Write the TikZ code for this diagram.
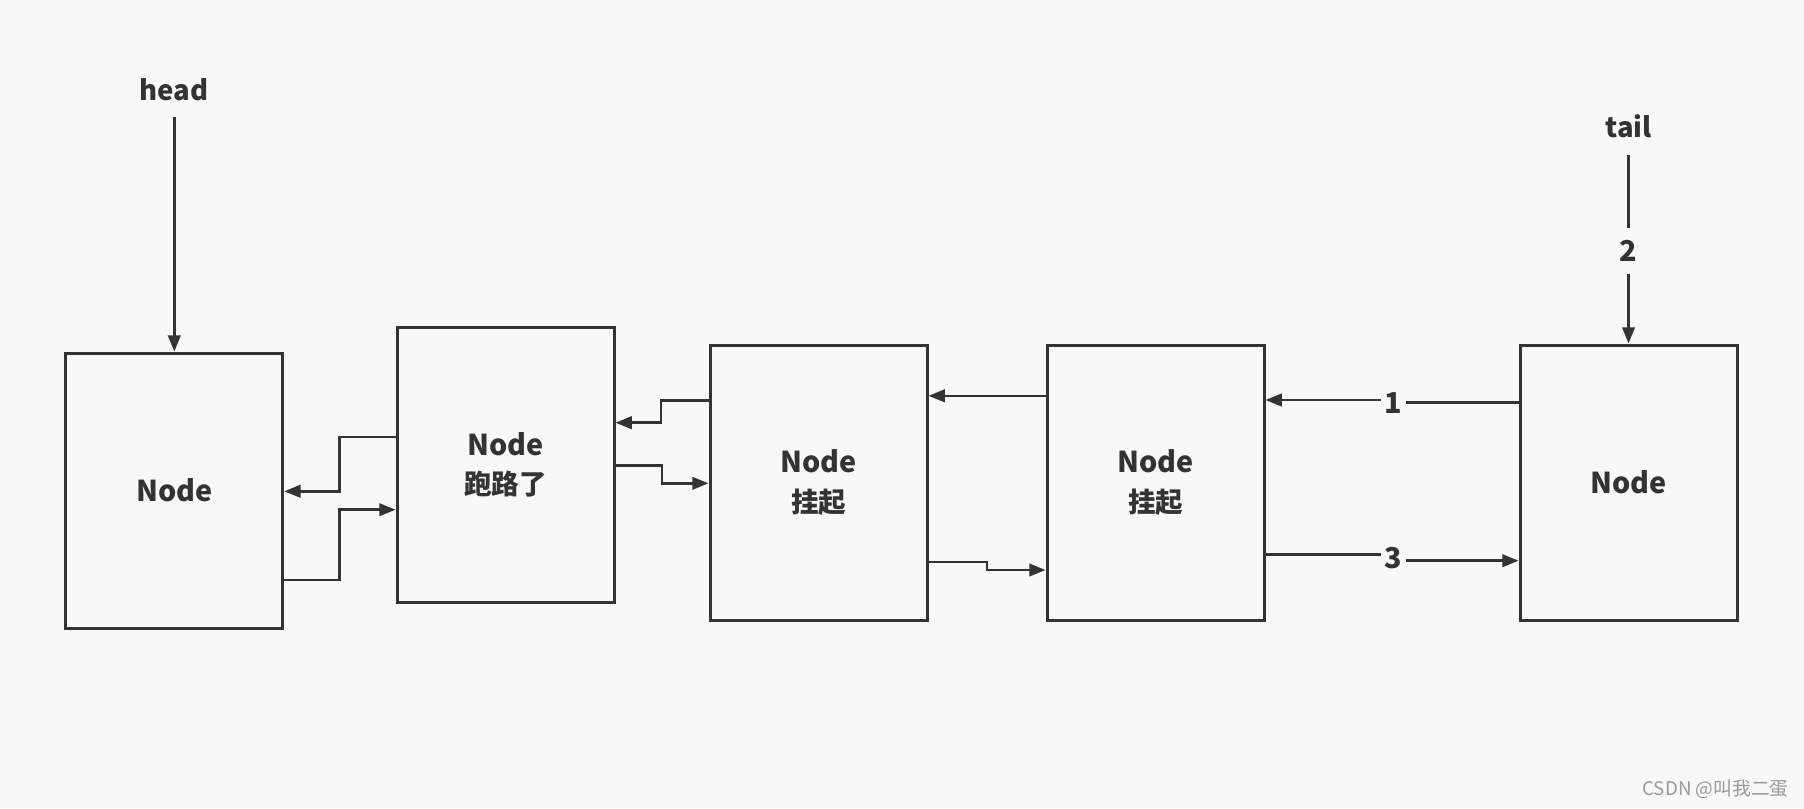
\documentclass[tikz,border=0pt]{standalone}
\usepackage{fontspec}
\setmainfont{Noto Sans CJK SC}
\usetikzlibrary{arrows.meta}
\definecolor{bg}{HTML}{F8F8F8}
\definecolor{ink}{HTML}{333333}
\definecolor{mark}{HTML}{999999}
\tikzset{
  box/.style={draw=ink, line width=1.2pt, minimum width=86.8pt, minimum height=110pt, inner sep=0pt, align=center, text=ink, font=\bfseries\fontsize{11.5}{14.3}\selectfont},
  arr/.style={draw=ink, line width=1pt, -{Triangle[length=6.5pt,width=5pt]}},
  lbl/.style={text=ink, font=\bfseries\fontsize{11}{13}\selectfont, inner sep=1.5pt},
  numlbl/.style={text=ink, fill=bg, font=\bfseries\fontsize{11.5}{13}\selectfont, inner sep=1.5pt},
}
\newcommand{\cjktxt}[1]{{\fontsize{11}{14.3}\selectfont #1}}
\begin{document}
\begin{tikzpicture}[x=0.4pt,y=-0.4pt]
\fill[bg] (0,0) rectangle (1804,808);
\useasboundingbox (0,0) rectangle (1804,808);

\node[box] (A) at (174.3,490.6) {Node};
\node[box] (B) at (505.5,465) {Node\\[1.5pt]\cjktxt{跑路了}};
\node[box] (C) at (818.5,482.5) {Node\\[1.5pt]\cjktxt{挂起}};
\node[box] (D) at (1155.5,482.5) {Node\\[1.5pt]\cjktxt{挂起}};
\node[box] (E) at (1628.5,482.5) {Node};

\node[lbl] (head) at (173.7,89.7) {head};
\node[lbl] (tail) at (1628.5,126.5) {tail};

\draw[arr] (A.north |- 0,117) -- (A.north);
\draw[arr] (E.north |- 0,155) -- (E.north);
\node[numlbl,inner ysep=5pt] (n2) at (1628.5,251) {2};

% B <-> A
\draw[arr] (B.west |- 0,437.2) -- (339.4,437.2) -- (339.4,491.3) -- (A.east |- 0,491.3);
\draw[arr] (A.east |- 0,579.9) -- (339.4,579.9) -- (339.4,509.7) -- (B.west |- 0,509.7);
% C <-> B
\draw[arr] (C.west |- 0,400.7) -- (661,400.7) -- (661,422.7) -- (B.east |- 0,422.7);
\draw[arr] (B.east |- 0,465.7) -- (662,465.7) -- (662,483.3) -- (C.west |- 0,483.3);
% D <-> C
\draw[arr] (D.west |- 0,395.8) -- (C.east |- 0,395.8);
\draw[arr] (C.east |- 0,562) -- (987,562) -- (987,570) -- (D.west |- 0,570);
% E <-> D
\draw[arr] (E.west |- 0,402.7) -- (1393,402.7) -- (1393,400) -- (D.east |- 0,400);
\node[numlbl] (n1) at (1393,403) {1};
\draw[arr] (D.east |- 0,554.7) -- (1393,554.7) -- (1393,560.7) -- (E.west |- 0,560.7);
\node[numlbl] (n3) at (1393,558) {3};

\node[anchor=east, text=mark, font=\fontsize{7.5}{9}\selectfont, inner sep=0pt] (wm) at (1789,789) {CSDN @叫我二蛋};
\end{tikzpicture}
\end{document}
